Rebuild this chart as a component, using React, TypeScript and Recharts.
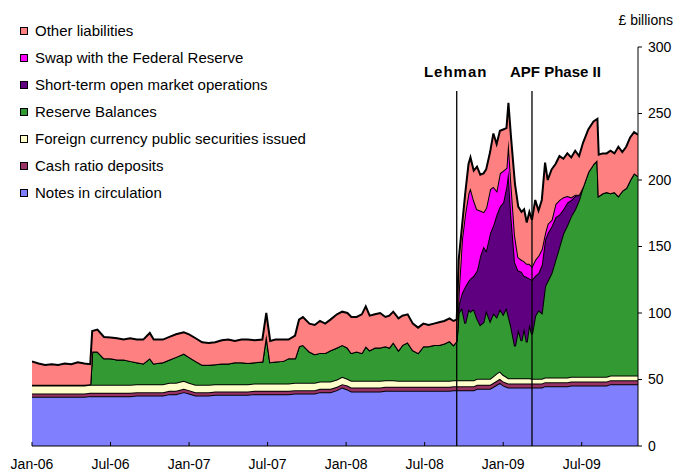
import React from 'react';
import { AreaChart, Area, XAxis, YAxis, ReferenceLine, Legend } from 'recharts';

// months since Jan-2006
const months = [
  0, 0.5, 1, 1.5, 2, 2.5, 3, 3.5, 4, 4.45,
  4.6, 5, 5.5, 6, 6.5, 7, 7.5, 8, 8.5, 9,
  9.3, 10, 10.5, 11, 11.6, 12, 12.5, 13, 13.5, 14,
  14.5, 15, 15.5, 16, 16.5, 17, 17.6, 17.9, 18.2, 18.6,
  19.2, 19.6, 20.1, 20.4, 20.7, 21.2, 21.6, 22, 22.4, 22.8,
  23.3, 23.7, 24.1, 24.4, 24.8, 25.2, 25.5, 25.8, 26.2, 26.6,
  27, 27.3, 27.6, 28, 28.3, 28.7, 29.1, 29.5, 29.9, 30.3,
  30.7, 31.1, 31.5, 31.9, 32.2, 32.45, 32.6, 32.85, 33.1, 33.35,
  33.5, 33.75, 34, 34.25, 34.5, 34.7, 35, 35.25, 35.5, 35.75,
  36, 36.25, 36.4, 36.6, 36.9, 37.15, 37.4, 37.6, 37.8, 38,
  38.2, 38.45, 38.7, 38.95, 39.2, 39.4, 39.7, 40, 40.3, 40.6,
  40.9, 41.2, 41.5, 41.8, 42.1, 42.5, 42.9, 43.2, 43.3, 43.6,
  43.9, 44.2, 44.5, 44.8, 45.1, 45.4, 45.7, 46, 46.3,
];

const notes = [
  37, 37, 37, 37, 37, 37, 37, 37, 37, 37.5,
  37.5, 37.5, 37.5, 37.5, 37.5, 37.5, 37.5, 38, 38, 38,
  38, 38, 39, 39, 40.5, 39.5, 38, 38, 38, 38.5,
  38.5, 38.5, 38.5, 38.5, 38.5, 39, 39, 39, 39, 39,
  39, 39, 39.5, 39.5, 39.5, 39.5, 39.5, 40.5, 40.5, 40.5,
  42, 44, 42.5, 41, 41, 41, 41, 41, 41, 41,
  41.5, 41.5, 41.5, 41.5, 41.5, 41.5, 41.5, 41.5, 41.5, 41.5,
  41.5, 41.5, 41.5, 41.5, 42, 42, 42, 42, 42, 42,
  42, 42, 43, 43, 43, 43, 43, 44.5, 46, 47.5,
  45.5, 44.5, 44, 44, 44, 44, 44, 44, 44, 44,
  44, 44, 44, 44, 45, 45, 45, 45, 45, 45,
  45, 45.5, 45.5, 45.5, 45.5, 45.5, 45.5, 45.5, 45.5, 45.5,
  45.5, 46.5, 46.5, 46.5, 46.5, 46.5, 46.5, 46.5, 46.5,
];

const cashRatio = [
  2.5, 2.5, 2.5, 2.5, 2.5, 2.5, 2.5, 2.5, 2.5, 2.5,
  2.5, 2.5, 2.5, 2.5, 2.5, 2.5, 2.5, 2.5, 2.5, 2.5,
  2.5, 2.5, 2.5, 2.5, 2.5, 2.5, 2.5, 2.5, 2.5, 2.5,
  2.5, 2.5, 2.5, 2.5, 2.5, 2.5, 2.5, 2.5, 2.5, 2.5,
  2.5, 2.5, 2.5, 2.5, 2.5, 2.5, 2.5, 2.5, 2.5, 2.5,
  2.5, 2.5, 3, 3, 3, 3, 3, 3, 3, 3,
  3, 3, 3, 3, 3, 3, 3, 3, 3, 3,
  3, 3, 3, 3, 3, 3, 3, 3, 3, 3,
  3, 3, 3, 3, 3, 3, 3, 3, 3, 3,
  3, 3, 3, 3, 3, 3, 3, 3, 3, 3,
  3, 3, 3, 3, 3, 3, 3, 3, 3, 3,
  3, 3, 3, 3, 3, 3, 3, 3, 3, 3,
  3, 3, 3, 3, 3, 3, 3, 3, 3,
];

const fxSecurities = [
  6, 6, 6, 6, 6, 6, 6, 6, 6, 6,
  6, 6, 6, 6, 6, 6, 6, 6, 6, 6,
  6, 6, 6, 6, 6, 5.5, 5.5, 5.5, 5.5, 5.5,
  5.5, 5.5, 5.5, 5.5, 5.5, 5.5, 5.5, 5.5, 5.5, 5.5,
  5.5, 5.5, 5.5, 5.5, 5.5, 5.5, 5.5, 5.5, 5.5, 5.5,
  5.5, 5.5, 5, 5, 5, 5, 5, 5, 5, 5,
  5, 5, 5, 4.5, 4.5, 4.5, 4.5, 4.5, 4.5, 4.5,
  4.5, 4.5, 4.5, 4.5, 4.5, 4.5, 4.5, 4.5, 4.5, 4.5,
  4.5, 4.5, 4.5, 4.5, 4.5, 4.5, 4.5, 5, 5.5, 5.5,
  5, 4.5, 4, 4, 4, 4, 4, 4, 4, 4,
  3.5, 3.5, 3.5, 3.5, 3.5, 3.5, 3.5, 3.5, 3.5, 3.5,
  3.5, 3.5, 3.5, 3.5, 3.5, 3.5, 3.5, 3.5, 3.5, 3.5,
  3.5, 3.5, 3.5, 3.5, 3.5, 3.5, 3.5, 3.5, 3.5,
];

const reserves = [
  0.5, 0.5, 0.5, 0.5, 0.5, 0.5, 0.5, 0.5, 0.5, 0.5,
  25, 25, 20, 20, 19, 19, 18, 16.5, 15.5, 19.5,
  15.5, 16.5, 17.5, 19.5, 20.5, 19.5, 18, 15, 15, 15,
  15.5, 15.5, 16.5, 16.5, 16, 16, 16.5, 37, 16, 16.5,
  17, 19, 18.5, 27.5, 28.5, 23.5, 21.5, 21.5, 21.5, 23.5,
  24, 24, 23.5, 21, 22, 21, 26, 23, 25, 25,
  25.5, 24.5, 28.5, 23, 27, 29, 23, 21, 26, 26,
  27, 27, 28, 30, 26.5, 29.5, 50.5, 54.5, 42.5, 53.5,
  51.5, 53.5, 45.5, 40.5, 42.5, 51.5, 43.5, 47.5, 42.5, 47,
  45.5, 52, 47, 39, 24, 37, 28, 38, 27, 41,
  33.5, 47.5, 51.5, 49.5, 68.5, 72.5, 78.5, 88.5, 98.5, 108.5,
  114.5, 121, 126, 133, 143, 154, 160, 163, 136, 138,
  139, 137, 138, 135, 139, 141, 147, 152, 150,
];

const shortTermOMO = [
  0, 0, 0, 0, 0, 0, 0, 0, 0, 0,
  0, 0, 0, 0, 0, 0, 0, 0, 0, 0,
  0, 0, 0, 0, 0, 0, 0, 0, 0, 0,
  0, 0, 0, 0, 0, 0, 0, 0, 0, 0,
  0, 0, 0, 0, 0, 0, 0, 0, 0, 0,
  0, 0, 0, 0, 0, 0, 0, 0, 0, 0,
  0, 0, 0, 0, 0, 0, 0, 0, 0, 0,
  0, 0, 0, 0, 0, 0, 6, 11, 28, 21,
  25, 25, 36, 52, 57, 45, 66, 66, 77, 77,
  84, 91, 109, 85, 63, 44, 52, 39, 49, 34,
  41, 30, 28, 36, 35, 36, 35, 32, 24, 18,
  17, 12, 10, 4, 0, 0, 0, 0, 0, 0,
  0, 0, 0, 0, 0, 0, 0, 0, 0,
];

const fedSwap = [
  0, 0, 0, 0, 0, 0, 0, 0, 0, 0,
  0, 0, 0, 0, 0, 0, 0, 0, 0, 0,
  0, 0, 0, 0, 0, 0, 0, 0, 0, 0,
  0, 0, 0, 0, 0, 0, 0, 0, 0, 0,
  0, 0, 0, 0, 0, 0, 0, 0, 0, 0,
  0, 0, 0, 0, 0, 0, 0, 0, 0, 0,
  0, 0, 0, 0, 0, 0, 0, 0, 0, 0,
  0, 0, 0, 0, 0, 0, 9, 40, 55, 66,
  68, 57, 46, 34, 26, 32, 33, 29, 18, 25,
  24, 14, 23, 25, 20, 10, 9, 11, 10, 11,
  10, 12, 13, 12, 5, 7, 5, 10, 11, 9,
  5, 2, 1, 0, 0, 0, 0, 0, 0, 0,
  0, 0, 0, 0, 0, 0, 0, 0, 0,
];

const otherLiabilities = [
  17.5, 16, 15, 15.5, 15, 16, 15.5, 17, 16, 15,
  15.5, 16.5, 16, 15.5, 16, 15, 17, 17, 18, 19,
  18, 17, 17, 17, 16, 17, 17, 17, 16.5, 16.5,
  17.5, 18, 16, 17, 17.5, 16.5, 16.5, 16, 16, 16.5,
  16, 14, 17, 20, 21, 21, 22, 24, 22, 23,
  25, 25, 26, 27, 26, 29, 30, 26, 25, 26,
  22, 24, 23, 24, 22, 21, 20, 19, 17, 16,
  16, 17, 17, 17, 18, 16, 25, 10, 15, 22,
  23, 22, 32, 27, 29, 29, 28, 40, 35, 32,
  31, 30, 28, 32, 39, 38, 36, 39, 31, 39,
  35, 45, 34, 37, 53, 33, 38, 30, 33, 29,
  32, 30, 33, 29, 33, 32, 32, 31, 31, 30,
  29, 32, 29, 37, 29, 31, 32, 31, 31,
];

const xTickValues = [0, 6, 12, 18, 24, 30, 36, 42];
const xTickLabels = ['Jan-06', 'Jul-06', 'Jan-07', 'Jul-07', 'Jan-08', 'Jul-08', 'Jan-09', 'Jul-09'];
const yTickValues = [0, 50, 100, 150, 200, 250, 300];

const eventMonths = [32.45, 38.2];
const eventLabels = ['Lehman', 'APF Phase II'];
const eventLineTop = 267;

const FONT = '"Liberation Sans", Arial, Helvetica, sans-serif';
const X_TICK_MARGIN = 13;

const seriesDefs = [
  { key: 'notes', name: 'Notes in circulation', color: '#8080FF' },
  { key: 'cash', name: 'Cash ratio deposits', color: '#993366' },
  { key: 'fx', name: 'Foreign currency public securities issued', color: '#FFFFCC' },
  { key: 'reserves', name: 'Reserve Balances', color: '#339933' },
  { key: 'omo', name: 'Short-term open market operations', color: '#5E0080' },
  { key: 'swap', name: 'Swap with the Federal Reserve', color: '#FF00FF' },
  { key: 'other', name: 'Other liabilities', color: '#FF8080' },
];

const data = months.map((m, i) => ({
  m,
  notes: notes[i],
  cash: cashRatio[i],
  fx: fxSecurities[i],
  reserves: reserves[i],
  omo: shortTermOMO[i],
  swap: fedSwap[i],
  other: otherLiabilities[i],
}));

const XTick = (props: any) => {
  const { x, y, payload } = props;
  const axisY = y - X_TICK_MARGIN;
  const idx = xTickValues.indexOf(payload.value);
  return (
    <g>
      <line x1={x} x2={x} y1={axisY} y2={axisY - 4} stroke="#000" strokeWidth={1} />
      <text x={x} y={y} dy="0.71em" textAnchor="middle" fontSize={14} fontFamily={FONT} fill="#000">
        {idx >= 0 ? xTickLabels[idx] : ''}
      </text>
    </g>
  );
};

const EventLabel = (props: any) => {
  const { viewBox, text, dx, anchor, spacing } = props;
  if (!viewBox) return null;
  return (
    <text
      x={viewBox.x + dx}
      y={viewBox.y - 14}
      textAnchor={anchor}
      fontSize={15}
      fontWeight="bold"
      fontFamily={FONT}
      letterSpacing={spacing}
      fill="#000"
    >
      {text}
    </text>
  );
};

const UnitLabel = (props: any) => {
  const { viewBox } = props;
  if (!viewBox) return null;
  return (
    <text x={viewBox.x + viewBox.width - 2} y={viewBox.y - 22} textAnchor="end" fontSize={14} fontFamily={FONT} fill="#000">
      £ billions
    </text>
  );
};

const renderLegend = () => {
  const items = [...seriesDefs].reverse();
  return (
    <div style={{ fontFamily: FONT, fontSize: 15, color: '#000' }}>
      {items.map((s) => (
        <div key={s.key} style={{ display: 'flex', alignItems: 'center', height: 27, whiteSpace: 'nowrap' }}>
          <span
            style={{
              display: 'inline-block',
              width: 8,
              height: 8,
              boxSizing: 'border-box',
              border: '1px solid #000',
              background: s.color,
              marginRight: 7,
            }}
          />
          <span>{s.name}</span>
        </div>
      ))}
    </div>
  );
};

export default function App() {
  return (
    <div style={{ position: 'absolute', left: 0, top: 0, width: 675, height: 474, background: '#fff' }}>
      <AreaChart width={675} height={474} data={data} margin={{ top: 47, right: 0, bottom: 0, left: 32 }}>
        <XAxis
          dataKey="m"
          type="number"
          domain={[0, 46.3]}
          ticks={xTickValues}
          interval={0}
          tickSize={0}
          tickMargin={X_TICK_MARGIN}
          tickLine={false}
          tick={<XTick />}
          axisLine={{ stroke: '#000', strokeWidth: 1 }}
          height={28}
          allowDataOverflow
        />
        <YAxis
          orientation="right"
          domain={[0, 300]}
          ticks={yTickValues}
          interval={0}
          tickSize={4}
          tickMargin={6}
          width={37}
          tick={{ fontSize: 14, fill: '#000', fontFamily: FONT }}
          tickLine={{ stroke: '#000' }}
          axisLine={{ stroke: '#000', strokeWidth: 1 }}
          label={<UnitLabel />}
        />
        <Legend
          layout="vertical"
          align="center"
          verticalAlign="middle"
          content={renderLegend}
          wrapperStyle={{ left: 20, top: 17, width: 'auto', height: 'auto' }}
        />
        {seriesDefs.map((s) => (
          <Area
            key={s.key}
            type="linear"
            dataKey={s.key}
            name={s.name}
            stackId="1"
            fill={s.color}
            fillOpacity={1}
            stroke="#000"
            strokeWidth={2}
            dot={false}
            activeDot={false}
            isAnimationActive={false}
          />
        ))}
        <ReferenceLine
          segment={[{ x: eventMonths[0], y: 0 }, { x: eventMonths[0], y: eventLineTop }]}
          stroke="#000"
          strokeWidth={1.3}
          label={<EventLabel text={eventLabels[0]} dx={-1} anchor="middle" spacing={1} />}
        />
        <ReferenceLine
          segment={[{ x: eventMonths[1], y: 0 }, { x: eventMonths[1], y: eventLineTop }]}
          stroke="#000"
          strokeWidth={1.3}
          label={<EventLabel text={eventLabels[1]} dx={-22} anchor="start" spacing={0} />}
        />
      </AreaChart>
    </div>
  );
}
